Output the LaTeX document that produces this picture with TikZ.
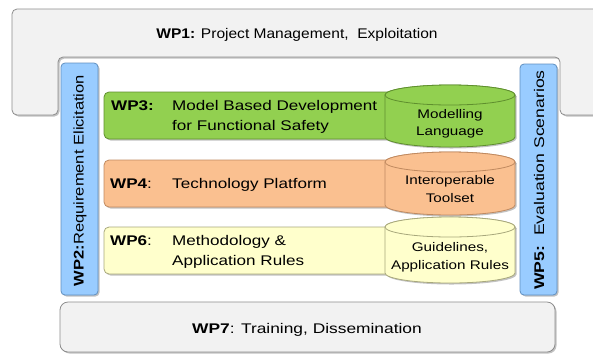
\documentclass[tikz,border=0pt]{standalone}
\usepackage{fontspec}
\setmainfont{Liberation Sans}
\definecolor{panelfill}{HTML}{F2F2F2}
\definecolor{panelline}{HTML}{8C8C8C}
\definecolor{shade}{HTML}{9A9A9A}
\definecolor{greenfill}{HTML}{92D050}
\definecolor{greenline}{HTML}{5F8F2E}
\definecolor{orangefill}{HTML}{FAC090}
\definecolor{orangeline}{HTML}{C08A60}
\definecolor{yellowfill}{HTML}{FFFFCC}
\definecolor{yellowline}{HTML}{A8A87C}
\definecolor{bluefill}{HTML}{99CCFF}
\definecolor{blueline}{HTML}{5F8FC0}
% horizontally widened text
\newcommand\wx[2][1.22]{\scalebox{#1}[1]{#2}}
% cylinder: #1 centre x, #2 top-ellipse y, #3 bottom-ellipse y, #4 style
\newcommand\drum[4]{%
  \path[#4] (#1-65,#2) -- (#1-65,#3)
    arc[start angle=180,end angle=0,x radius=65,y radius=10]
    -- (#1+65,#2)
    arc[start angle=0,end angle=-180,x radius=65,y radius=10] -- cycle;
  \path[#4] (#1,#2) ellipse[x radius=65,y radius=10];}
\begin{document}
\begin{tikzpicture}[x=1pt,y=-1pt,
  panel/.style={draw=panelline,fill=panelfill,line width=0.8pt},
  shadow/.style={fill=shade,opacity=0.6},
  wplabel/.style={inner sep=0pt,font=\fontsize{14}{20}\selectfont},
  drumlabel/.style={inner sep=0pt,font=\fontsize{12.5}{17.5}\selectfont},
  greenbox/.style={draw=greenline,fill=greenfill,line width=0.8pt},
  orangebox/.style={draw=orangeline,fill=orangefill,line width=0.8pt},
  yellowbox/.style={draw=yellowline,fill=yellowfill,line width=0.8pt},
  bluebar/.style={draw=blueline,fill=bluefill,line width=0.8pt,rounded corners=4pt}]
\useasboundingbox (0,0) rectangle (593,354);

% WP1: frame across the top with two legs
\fill[shadow,rounded corners=5pt,shift={(1.5,1.5)}]
  (12,9) -- (610,9) -- (610,115) -- (560,115) -- (560,57) -- (58,57)
  -- (58,115) -- (12,115) -- cycle;
\path[panel,rounded corners=5pt]
  (12,9) -- (610,9) -- (610,115) -- (560,115) -- (560,57) -- (58,57)
  -- (58,115) -- (12,115) -- cycle;
\node[wplabel,anchor=base] (wp1) at (297,38)
  {\wx[1.11]{\textbf{WP1:} Project Management,~~Exploitation}};

% WP7: bottom bar
\fill[shadow,rounded corners=8pt] (61.5,303.5) rectangle (556.5,353.5);
\path[panel,rounded corners=8pt] (60,302) rectangle (555,352);
\node[wplabel,anchor=base] (wp7) at (307,333)
  {\wx[1.24]{\textbf{WP7}: Training, Dissemination}};

% WP2 and WP5: vertical side bars
\fill[shadow,rounded corners=4pt] (62.5,64.5) rectangle (99.5,296.5);
\path[bluebar] (61,63) rectangle (98,295);
\node[wplabel,rotate=90] (wp2) at (80,180.5)
  {\wx[1.18]{\textbf{WP2:}Requirement Elicitation}};
\fill[shadow,rounded corners=4pt] (521.5,65.5) rectangle (558.5,296.5);
\path[bluebar] (520,64) rectangle (557,295);
\node[wplabel,rotate=90] (wp5) at (539,180)
  {\wx[1.26]{\textbf{WP5:}~~Evaluation Scenarios}};

% WP3, WP4, WP6: horizontal work packages
\fill[shadow,rounded corners=5pt] (105.5,93.5) rectangle (395,140.5);
\path[greenbox,rounded corners=5pt] (104,92) rectangle (395,139);
\fill[shadow,rounded corners=5pt] (105.5,161.5) rectangle (395,208.5);
\path[orangebox,rounded corners=5pt] (104,160) rectangle (395,207);
\fill[shadow,rounded corners=5pt] (105.5,228.5) rectangle (395,275.5);
\path[yellowbox,rounded corners=5pt] (104,227) rectangle (395,274);

\node[wplabel,anchor=base west] (wp3) at (111,110) {\wx{\textbf{WP3:}}};
\node[wplabel,anchor=base west] (wp3text) at (172,110)
  {\wx{\begin{tabular}[t]{@{}l@{}}Model Based Development\\for Functional Safety\end{tabular}}};
\node[wplabel,anchor=base west] (wp4) at (110,188) {\wx{\textbf{WP4}:}};
\node[wplabel,anchor=base west] (wp4text) at (172,188) {\wx{Technology Platform}};
\node[wplabel,anchor=base west] (wp6) at (110,245) {\wx{\textbf{WP6}:}};
\node[wplabel,anchor=base west] (wp6text) at (172,245)
  {\wx{\begin{tabular}[t]{@{}l@{}}Methodology \&\\Application Rules\end{tabular}}};

% result cylinders
\drum{451.5}{96.5}{138.5}{shadow}
\drum{450}{95}{137}{greenbox}
\drum{451.5}{163.5}{206.5}{shadow}
\drum{450}{162}{205}{orangebox}
\drum{451.5}{228.5}{274.5}{shadow}
\drum{450}{227}{273}{yellowbox}

\node[drumlabel,anchor=base] (lang) at (450,118)
  {\wx{\begin{tabular}[t]{@{}c@{}}Modelling\\Language\end{tabular}}};
\node[drumlabel,anchor=base] (tools) at (450,184.5)
  {\wx{\begin{tabular}[t]{@{}c@{}}Interoperable\\Toolset\end{tabular}}};
\node[drumlabel,anchor=base] (rules) at (450,251.5)
  {\wx{\begin{tabular}[t]{@{}c@{}}Guidelines,\\Application Rules\end{tabular}}};
\end{tikzpicture}
\end{document}
